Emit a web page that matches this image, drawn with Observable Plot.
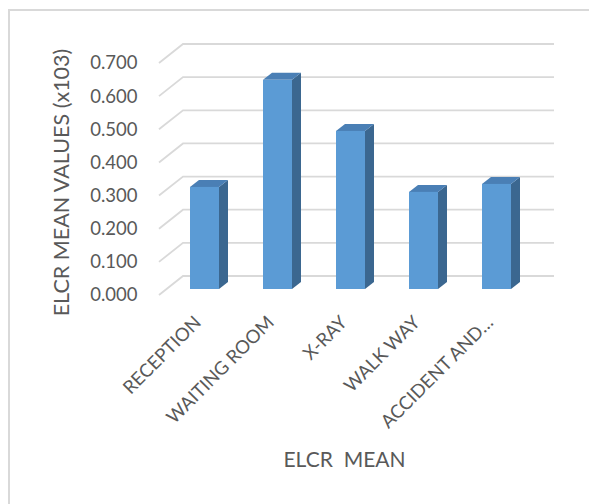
<!DOCTYPE html>
<html>
<head>
<meta charset="utf-8">
<script src="https://cdn.jsdelivr.net/npm/d3@7"></script>
<script src="https://cdn.jsdelivr.net/npm/@observablehq/plot@0.6"></script>
<style>
  html, body { margin: 0; padding: 0; background: #fff; overflow: hidden; }
  #wrap { position: relative; width: 589px; height: 504px; }
  #border { position: absolute; left: 8px; top: 9px; width: 700px; height: 700px;
            border: 2px solid #d9d9d9; box-sizing: border-box; }
  #chart { position: absolute; left: 0; top: 0; }
</style>
</head>
<body>
<div id="wrap"><div id="border"></div><div id="chart"></div></div>
<script>
const zones = ["RECEPTION", "WAITING ROOM", "X-RAY", "WALK WAY", "ACCIDENT AND…"];
const elcrMean = [0.308, 0.631, 0.477, 0.293, 0.317];
const yTicks = [0, 0.1, 0.2, 0.3, 0.4, 0.5, 0.6, 0.7];
const xTitle = "ELCR\u00a0\u00a0MEAN";
const yTitle = "ELCR MEAN VALUES (x103)";

const data = zones.map((zone, i) => ({zone, value: elcrMean[i]}));

const FRONT = "#5b9bd5", SIDE = "#3b6790", TOP = "#4a7fb5", GRID = "#d9d9d9", INK = "#595959";
const DX = 9, DY = 7;             // bar depth (px)
const FRONT_DY = 6;               // front floor plane offset below bar plane
const WALL_DX = 24, WALL_DY = 19; // back wall offset from front plane

const font = "Lato, 'Open Sans', sans-serif";

const gridMark = Plot.ruleY(yTicks, {
  render(index, scales, values, dims) {
    const g = d3.create("svg:g").attr("fill", "none").attr("stroke", GRID).attr("stroke-width", 1.8);
    const xl = dims.marginLeft + 14;
    const xr = dims.width - dims.marginRight - 3;
    for (const v of yTicks) {
      const yf = scales.y(v) + FRONT_DY;
      g.append("path").attr("d", `M${xl},${yf}L${xl + WALL_DX},${yf - WALL_DY}L${xr},${yf - WALL_DY}`);
    }
    return g.node();
  }
});

const barMark = Plot.barY(data, {
  x: "zone", y: "value",
  render(index, scales, values, dims) {
    const g = d3.create("svg:g");
    const bw = scales.x.bandwidth();
    for (const i of index) {
      const d = data[i];
      const x0 = scales.x(d.zone), x1 = x0 + bw;
      const yt = scales.y(d.value), yb = scales.y(0);
      g.append("path").attr("fill", SIDE)
        .attr("d", `M${x1},${yt}L${x1 + DX},${yt - DY}L${x1 + DX},${yb - DY}L${x1},${yb}Z`);
      g.append("path").attr("fill", TOP)
        .attr("d", `M${x0},${yt}L${x1},${yt}L${x1 + DX},${yt - DY}L${x0 + DX},${yt - DY}Z`);
      g.append("rect").attr("fill", FRONT)
        .attr("x", x0).attr("y", yt).attr("width", bw).attr("height", yb - yt);
    }
    return g.node();
  }
});

const chart = Plot.plot({
  width: 589,
  height: 504,
  marginLeft: 145,
  marginRight: 32,
  marginTop: 57,
  marginBottom: 215,
  style: {fontFamily: font, color: INK, background: "transparent", overflow: "visible"},
  x: {domain: zones, padding: 0.6, label: null},
  y: {domain: [0, 0.7], label: null},
  marks: [
    gridMark,
    barMark,
    Plot.axisY({ticks: yTicks, tickFormat: d3.format(".3f"), tickSize: 0, tickPadding: 8,
                dy: FRONT_DY, fontSize: 18.5, fill: INK, label: null}),
    Plot.axisX({tickSize: 0, tickRotate: -45, tickPadding: 10, dx: -7, dy: 20, fontSize: 18.5, fill: INK, label: null}),
    Plot.text([yTitle], {frameAnchor: "left", rotate: -90, dx: -83, dy: 9, fontSize: 21.5, fill: INK,
                         textAnchor: "middle", lineAnchor: "middle"}),
    Plot.text([xTitle], {frameAnchor: "bottom", dx: -7, dy: 177, fontSize: 21, fill: INK,
                         textAnchor: "middle", lineAnchor: "bottom"})
  ]
});
document.getElementById("chart").appendChild(chart);
</script>
</body>
</html>
